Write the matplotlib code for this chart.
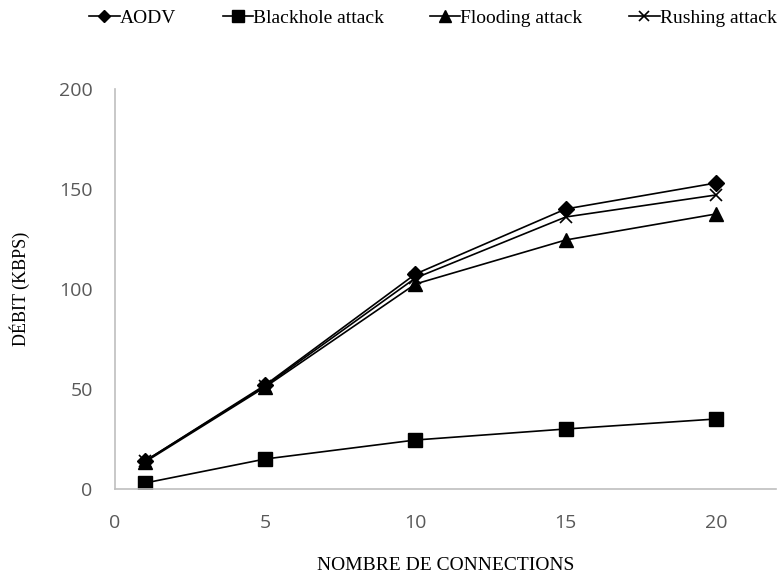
import matplotlib.pyplot as plt

# données
connexions = [1, 5, 10, 15, 20]
aodv = [14, 52, 107.5, 140, 153]
blackhole = [3, 15, 24.5, 30, 35]
flooding = [13.5, 51, 102.5, 124.5, 137.5]
rushing = [14, 51.5, 105.5, 136, 147]

fig = plt.figure(figsize=(7.8, 5.77), dpi=100)
ax = fig.add_axes([0.1474, 0.1525, 0.8476, 0.6933])

ax.plot(connexions, aodv, color='k', lw=1.2, marker='D', ms=8, label='AODV')
ax.plot(connexions, blackhole, color='k', lw=1.2, marker='s', ms=10, label='Blackhole attack')
ax.plot(connexions, flooding, color='k', lw=1.2, marker='^', ms=10, label='Flooding attack')
ax.plot(connexions, rushing, color='k', lw=1.2, marker='x', ms=9, mew=1.2, label='Rushing attack')

ax.set_xlim(0, 22)
ax.set_ylim(0, 200)
ax.set_xticks([0, 5, 10, 15, 20])
ax.set_yticks([0, 50, 100, 150, 200])

for s in ['top', 'right']:
    ax.spines[s].set_visible(False)
for s in ['left', 'bottom']:
    ax.spines[s].set_color('#bfbfbf')
    ax.spines[s].set_linewidth(1.2)
ax.tick_params(length=0, labelsize=14, labelcolor='#595959')
ax.tick_params(axis='y', pad=16)
ax.tick_params(axis='x', pad=18)
for lab in ax.get_xticklabels() + ax.get_yticklabels():
    lab.set_family('Open Sans')

ax.set_xlabel('NOMBRE DE CONNECTIONS', family='Liberation Serif', fontsize=14, labelpad=18)
ax.set_ylabel('DÉBIT (KBPS)', family='Liberation Serif', fontsize=13, labelpad=21)

leg = fig.legend(loc='center', bbox_to_anchor=(0.555, 0.969), ncol=4, frameon=False,
                 prop={'family': 'Liberation Serif', 'size': 14}, markerscale=0.8,
                 handlelength=1.55, handletextpad=0.0, columnspacing=2.4)

fig.savefig('out.png', dpi=100)
